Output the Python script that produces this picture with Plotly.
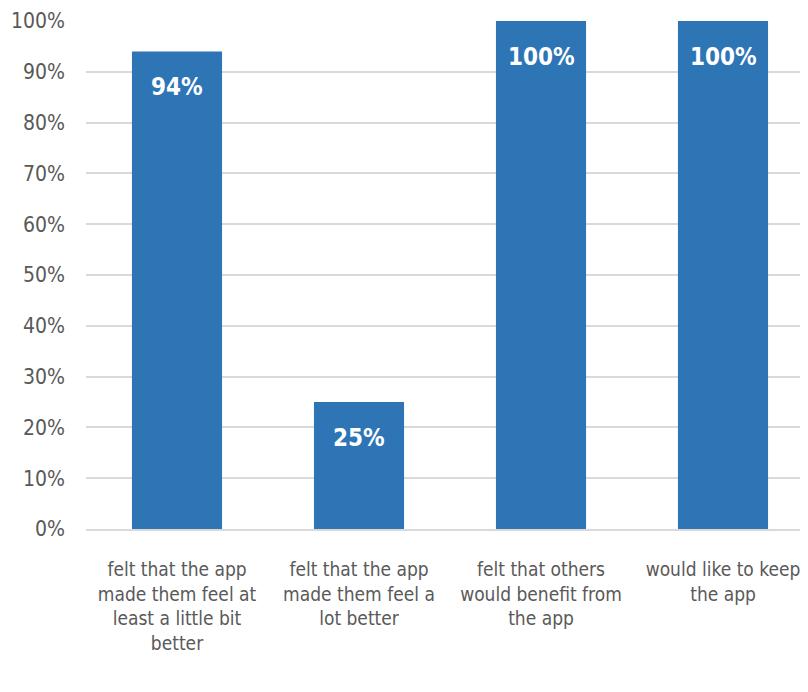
import plotly.graph_objects as go

categories = [
    "felt that the app<br>made them feel at<br>least a little bit<br>better",
    "felt that the app<br>made them feel a<br>lot better",
    "felt that others<br>would benefit from<br>the app",
    "would like to keep<br>the app",
]
values = [94, 25, 100, 100]
y_ticks = [0, 10, 20, 30, 40, 50, 60, 70, 80, 90, 100]
y_tick_labels = [f"{v}%" for v in y_ticks]

FONT = "DejaVu Sans Condensed, Open Sans, sans-serif"

fig = go.Figure()
fig.add_trace(go.Bar(
    x=list(range(len(categories))),
    y=values,
    marker=dict(color="#2E75B6", line=dict(width=0)),
    hoverinfo="skip",
))

for i, v in enumerate(values):
    fig.add_annotation(
        x=i, y=v, text=f"<b>{v}%</b>", showarrow=False,
        yanchor="top", yshift=-20,
        font=dict(family=FONT, size=24, color="white"),
    )

fig.update_layout(
    width=800, height=684,
    margin=dict(l=78, r=0, t=13, b=163),
    paper_bgcolor="white", plot_bgcolor="white",
    showlegend=False,
    bargap=0.505,
    font=dict(family=FONT, color="#595959"),
)
fig.update_xaxes(
    tickmode="array",
    tickvals=list(range(len(categories))),
    ticktext=categories,
    range=[-0.5, 3.467],
    tickangle=0, automargin=False,
    tickfont=dict(family=FONT, size=19, color="#595959"),
    showgrid=False, zeroline=False,
    showline=True, linecolor="#D9D9D9", linewidth=2,
    ticks="", ticklabelstandoff=22,
)
fig.update_yaxes(
    range=[0, 100],
    tickmode="array", tickvals=y_ticks, ticktext=y_tick_labels,
    tickfont=dict(family=FONT, size=21, color="#595959"),
    showgrid=True, gridcolor="#D9D9D9", gridwidth=2,
    zeroline=False, showline=False, ticks="", automargin=False,
    ticklabelstandoff=20,
)

fig.write_html("out.html")
